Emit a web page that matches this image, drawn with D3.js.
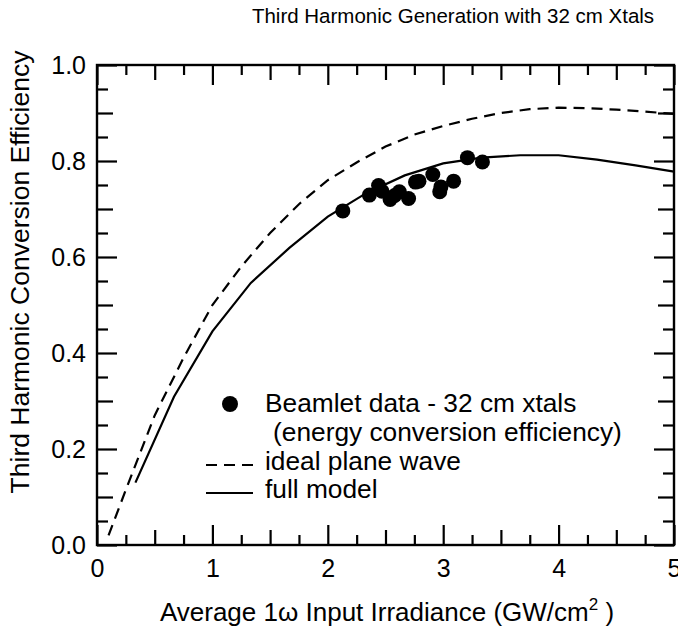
<!DOCTYPE html>
<html>
<head>
<meta charset="utf-8" />
<title>Third Harmonic Generation</title>
<script src="https://d3js.org/d3.v7.min.js"></script>
<style type="text/css">
body { margin: 0; background: #fff; }
svg { display: block; font-family: "Liberation Sans", Arial, Helvetica, sans-serif; }
</style>
</head>
<body>
<div id="svg"></div>
<script type="text/javascript">
// full model curve (GW/cm^2, efficiency)
var modelX = [0.333, 0.667, 1.0, 1.333, 1.667, 2.0, 2.333, 2.667, 3.0, 3.333, 3.667, 4.0, 4.333, 4.667, 5.0];
var modelY = [0.13, 0.309, 0.445, 0.546, 0.619, 0.684, 0.733, 0.77, 0.795, 0.807, 0.812, 0.812, 0.803, 0.791, 0.778];

// ideal plane wave curve
var idealX = [0.1, 0.25, 0.5, 0.75, 1.0, 1.25, 1.5, 1.75, 2.0, 2.25, 2.5, 2.75, 3.0, 3.25, 3.5, 3.75, 4.0, 4.25, 4.5, 4.75, 5.0];
var idealY = [0.02, 0.115, 0.27, 0.39, 0.5, 0.58, 0.65, 0.71, 0.76, 0.797, 0.83, 0.855, 0.873, 0.888, 0.9, 0.908, 0.911, 0.91, 0.907, 0.903, 0.898];

// Beamlet measurements
var dataX = [2.13, 2.36, 2.44, 2.47, 2.54, 2.58, 2.62, 2.70, 2.76, 2.79, 2.91, 2.97, 2.98, 3.09, 3.21, 3.34];
var dataY = [0.696, 0.729, 0.749, 0.737, 0.72, 0.728, 0.736, 0.722, 0.756, 0.758, 0.772, 0.736, 0.746, 0.758, 0.807, 0.798];

var xTicks = [0, 1, 2, 3, 4, 5];
var yTicks = [0, 0.2, 0.4, 0.6, 0.8, 1.0];

var width = 678,
    height = 628;

var svg = d3.select("#svg")
    .append("svg")
    .attr("width", width)
    .attr("height", height);

var xScale = d3.scaleLinear()
    .domain([0, 5])
    .range([97, 674]);

var yScale = d3.scaleLinear()
    .domain([0, 1])
    .range([545, 65]);

var xAll = d3.range(0, 21).map(d => d * 0.25);
var yAll = d3.range(0, 21).map(d => d * 0.05);

function xLen(d) {
    var k = Math.round(d * 4);
    return k % 4 == 0 ? 20 : (k % 2 == 0 ? 15 : 10);
}
function yLen(d) {
    var k = Math.round(d * 20);
    return k % 4 == 0 ? 20 : (k % 2 == 0 ? 16 : 11);
}

var xAxis = d3.axisBottom(xScale)
    .tickValues(xAll)
    .tickSize(0)
    .tickPadding(14)
    .tickFormat(d => xTicks.indexOf(d) >= 0 ? d3.format("d")(d) : "");

var yAxis = d3.axisLeft(yScale)
    .tickValues(yAll)
    .tickSize(0)
    .tickPadding(11)
    .tickFormat(d => yTicks.some(t => Math.abs(t - d) < 1e-6) ? d3.format(".1f")(d) : "");

var gX = svg.append("g")
    .attr("transform", "translate(0,545)")
    .call(xAxis);
gX.selectAll(".tick line").attr("y2", d => -xLen(d));

var gXt = svg.append("g")
    .attr("transform", "translate(0,65)")
    .call(d3.axisTop(xScale).tickValues(xAll).tickSize(0).tickFormat(""));
gXt.selectAll(".tick line").attr("y2", d => xLen(d));

var gY = svg.append("g")
    .attr("transform", "translate(97,0)")
    .call(yAxis);
gY.selectAll(".tick line").attr("x2", d => yLen(d));

var gYr = svg.append("g")
    .attr("transform", "translate(674,0)")
    .call(d3.axisRight(yScale).tickValues(yAll).tickSize(0).tickFormat(""));
gYr.selectAll(".tick line").attr("x2", d => -yLen(d));

svg.selectAll(".domain").remove();
svg.selectAll(".tick line").attr("stroke", "#000").attr("stroke-width", 2.2);
svg.selectAll(".tick text")
    .attr("font-family", "Liberation Sans, Arial, sans-serif")
    .attr("font-size", 25)
    .attr("fill", "#000");

svg.append("rect")
    .attr("x", xScale(0))
    .attr("y", yScale(1))
    .attr("width", xScale(5) - xScale(0))
    .attr("height", yScale(0) - yScale(1))
    .attr("fill", "none")
    .attr("stroke", "#000")
    .attr("stroke-width", 2.4);

var line = d3.line()
    .x(d => xScale(d[0]))
    .y(d => yScale(d[1]));

svg.append("path")
    .datum(d3.zip(idealX, idealY))
    .attr("d", line)
    .attr("fill", "none")
    .attr("stroke", "#000")
    .attr("stroke-width", 2.2)
    .attr("stroke-dasharray", "11,7");

svg.append("path")
    .datum(d3.zip(modelX, modelY))
    .attr("d", line)
    .attr("fill", "none")
    .attr("stroke", "#000")
    .attr("stroke-width", 2.2);

svg.selectAll(".dot")
    .data(d3.zip(dataX, dataY))
    .enter()
    .append("circle")
    .attr("class", "dot")
    .attr("cx", d => xScale(d[0]))
    .attr("cy", d => yScale(d[1]))
    .attr("r", 7.5)
    .attr("fill", "#000");

// legend
var lg = svg.append("g").attr("font-size", 26.3).attr("fill", "#000");
lg.append("circle").attr("cx", 230).attr("cy", 404).attr("r", 8).attr("fill", "#000");
lg.append("text").attr("x", 265).attr("y", 412).text("Beamlet data - 32 cm xtals");
lg.append("text").attr("x", 273).attr("y", 441).text("(energy conversion efficiency)");
lg.append("line").attr("x1", 206).attr("x2", 253).attr("y1", 465).attr("y2", 465)
    .attr("stroke", "#000").attr("stroke-width", 2.2).attr("stroke-dasharray", "11,7");
lg.append("text").attr("x", 265).attr("y", 470).text("ideal plane wave");
lg.append("line").attr("x1", 206).attr("x2", 253).attr("y1", 493).attr("y2", 493)
    .attr("stroke", "#000").attr("stroke-width", 2.2);
lg.append("text").attr("x", 265).attr("y", 498).text("full model");

// titles
svg.append("text")
    .attr("x", 453)
    .attr("y", 23)
    .attr("text-anchor", "middle")
    .attr("font-size", 20.5)
    .text("Third Harmonic Generation with 32 cm Xtals");

var xt = svg.append("text")
    .attr("x", 387)
    .attr("y", 621)
    .attr("text-anchor", "middle")
    .attr("font-size", 26);
xt.append("tspan").text("Average 1\u03c9 Input Irradiance (GW/cm");
xt.append("tspan").attr("dy", -11).attr("font-size", 17).text("2");
xt.append("tspan").attr("dy", 11).text(" )");

svg.append("text")
    .attr("transform", "translate(29,272) rotate(-90)")
    .attr("text-anchor", "middle")
    .attr("font-size", 26.5)
    .text("Third Harmonic Conversion Efficiency");
</script>
</body>
</html>
